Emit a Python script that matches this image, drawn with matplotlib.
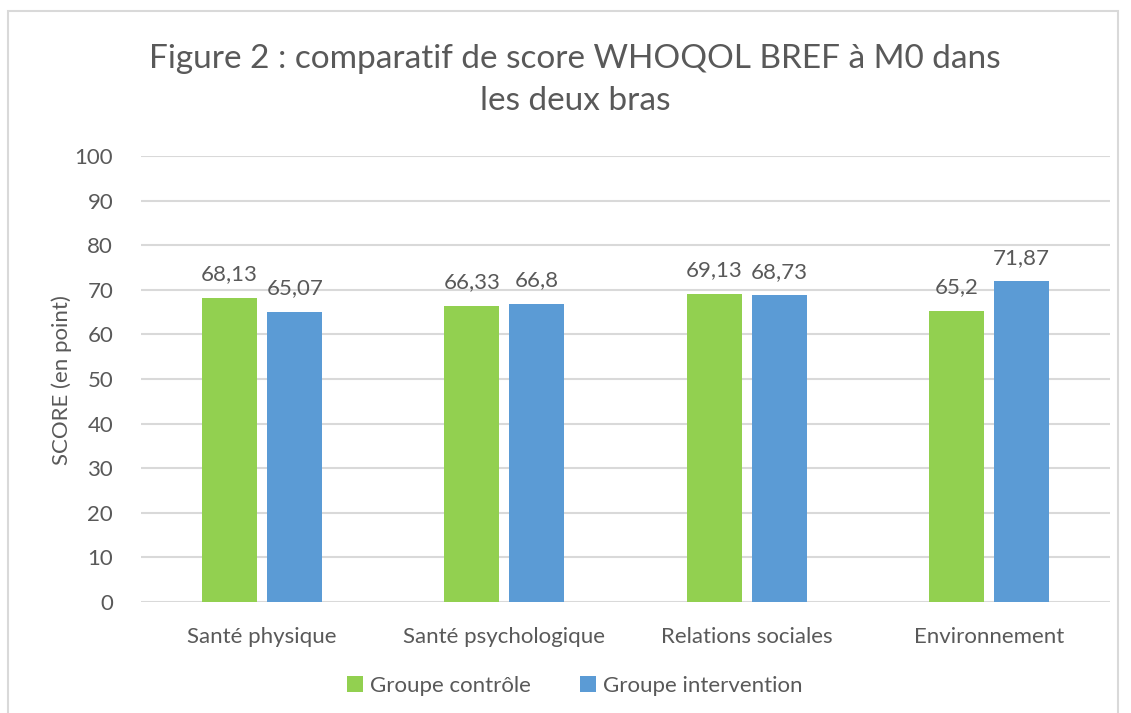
import matplotlib.pyplot as plt
import numpy as np
from matplotlib.patches import Rectangle

categories = ["Santé physique", "Santé psychologique", "Relations sociales", "Environnement"]
controle = [68.13, 66.33, 69.13, 65.2]
intervention = [65.07, 66.8, 68.73, 71.87]
series_names = ["Groupe contrôle", "Groupe intervention"]
yticks = list(range(0, 101, 10))

GREEN = "#92D050"
BLUE = "#5B9BD5"
TEXT = "#595959"
FS = 16

plt.rcParams["font.family"] = ["Lato", "DejaVu Sans"]

fig = plt.figure(figsize=(11.31, 7.13), dpi=100)
ax = fig.add_axes([141 / 1131, 1 - 602 / 713, (1110 - 141) / 1131, (602 - 156) / 713])

# chart frame like the Excel chart area
fig.patches.append(Rectangle((8 / 1131, -0.02), (1118 - 8) / 1131, 1.02 - 11 / 713,
                             transform=fig.transFigure, fill=False,
                             edgecolor="#d9d9d9", linewidth=1.5))

x = np.arange(len(categories))
w = 0.227
off = (w + 0.042) / 2
b1 = ax.bar(x - off, controle, w, color=GREEN, label=series_names[0], zorder=3)
b2 = ax.bar(x + off, intervention, w, color=BLUE, label=series_names[1], zorder=3)


def fmt(v):
    return f"{v:g}".replace(".", ",")


for bars, vals in ((b1, controle), (b2, intervention)):
    for rect, v in zip(bars, vals):
        ax.text(rect.get_x() + rect.get_width() / 2, v + 4.0, fmt(v),
                ha="center", va="baseline", fontsize=FS, color=TEXT)

ax.set_xlim(-0.5, len(categories) - 0.5)
ax.set_ylim(0, 100)
ax.set_yticks(yticks)
ax.set_xticks(x)
ax.set_xticklabels(categories)
ax.tick_params(axis="both", length=0, labelsize=FS, labelcolor=TEXT)
ax.tick_params(axis="y", pad=20)
ax.tick_params(axis="x", pad=18)
ax.grid(axis="y", color="#d9d9d9", linewidth=1.5, zorder=0)
for s in ax.spines.values():
    s.set_visible(False)

fig.text(62 / 1131, 1 - 380 / 713, "SCORE (en point)", rotation=90,
         ha="center", va="center", fontsize=FS, color=TEXT)

fig.text(575 / 1131, 1 - 80 / 713,
         "Figure 2 : comparatif de score WHOQOL BREF à M0 dans\nles deux bras",
         ha="center", va="center", fontsize=24, color=TEXT, linespacing=1.5)

fig.legend(handles=[b1, b2], labels=series_names, loc="center",
           bbox_to_anchor=(575 / 1131, 1 - 686 / 713), ncol=2, frameon=False,
           fontsize=FS, labelcolor=TEXT, handlelength=0.7, handleheight=0.7,
           handletextpad=0.35, columnspacing=2.2)

fig.savefig("out.png", dpi=100, facecolor="white")
